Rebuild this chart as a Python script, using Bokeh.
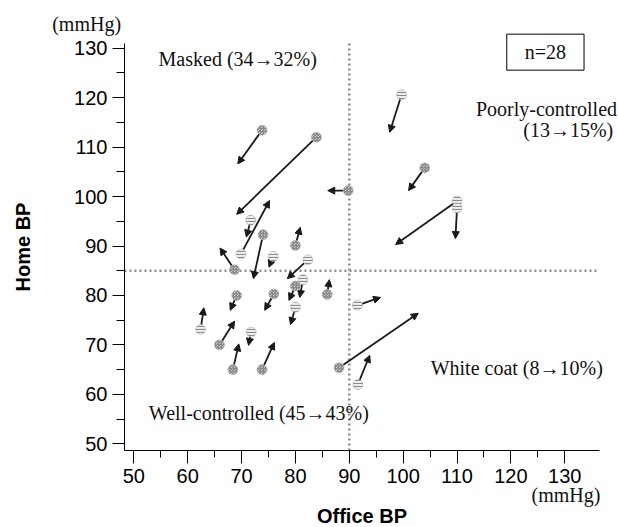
from bokeh.plotting import figure
from bokeh.models import (ColumnDataSource, Arrow, NormalHead, Label,
                          FixedTicker, Range1d, LinearAxis)
from bokeh.embed import file_html
from bokeh.resources import INLINE

# ---- data ----
office_before = [73.8, 83.9, 89.8, 71.7, 69.9, 74.0, 80.0, 68.7, 75.9, 82.3,
                 81.4, 80.0, 85.9, 69.1, 76.0, 80.0, 62.4, 65.9, 71.8, 68.4,
                 73.8, 88.1, 91.5, 91.6, 99.7, 104.0, 110.0, 110.0]
home_before = [113.4, 112.0, 101.2, 95.2, 88.4, 92.3, 90.1, 85.2, 87.9, 87.2,
               83.2, 81.9, 80.2, 80.0, 80.3, 77.6, 73.1, 70.0, 72.6, 65.0,
               65.0, 65.4, 78.0, 62.0, 120.6, 105.8, 99.1, 97.7]
office_after = [69.3, 69.1, 86.0, 70.9, 75.2, 72.2, 80.9, 66.0, 75.1, 78.5,
                80.8, 78.8, 86.3, 67.9, 74.3, 79.1, 63.0, 68.7, 71.3, 69.5,
                76.1, 102.8, 95.8, 93.8, 97.5, 101.0, 98.6, 109.7]
home_after = [106.6, 96.4, 101.2, 91.8, 99.2, 83.4, 93.8, 89.6, 85.7, 83.4,
              79.6, 79.0, 83.2, 77.0, 77.0, 74.1, 77.5, 74.8, 69.9, 70.2,
              70.5, 76.4, 79.6, 67.9, 113.0, 101.2, 90.3, 91.5]
marker_group = ["c", "c", "c", "s", "s", "c", "c", "c", "s", "s",
                "s", "c", "c", "c", "c", "s", "s", "c", "s", "c",
                "c", "c", "s", "s", "s", "c", "s", "s"]

x_ticks = [50, 60, 70, 80, 90, 100, 110, 120, 130]
y_ticks = [50, 60, 70, 80, 90, 100, 110, 120, 130]
office_cut = 90
home_cut = 85

quadrant_labels = ["Masked (34\u219232%)", "Poorly-controlled", "(13\u219215%)",
                   "White coat (8\u219210%)", "Well-controlled (45\u219243%)"]
n_label = "n=28"
unit_label = "(mmHg)"

SERIF = "Liberation Serif"
SANS = "Liberation Sans"

# axis extents (data units) and the wider canvas ranges
x_bounds = (48.27, 136.4)
y_bounds = (48.65, 131.0)

p = figure(width=618, height=527, output_backend="svg", toolbar_location=None,
           x_range=Range1d(25.26, 139.97), y_range=Range1d(33.07, 139.65),
           x_axis_location=None, y_axis_location=None,
           min_border=0)
p.outline_line_color = None
p.xgrid.visible = False
p.ygrid.visible = False
p.background_fill_color = "white"
p.border_fill_color = "white"

xaxis = LinearAxis(fixed_location=y_bounds[0], bounds=x_bounds)
yaxis = LinearAxis(fixed_location=x_bounds[0], bounds=y_bounds)
for ax, ticks in ((xaxis, x_ticks), (yaxis, y_ticks)):
    ax.ticker = FixedTicker(ticks=ticks,
                            minor_ticks=[t + 5 for t in ticks[:-1]])
    ax.axis_line_color = "black"
    ax.axis_line_width = 1
    ax.major_tick_line_color = "black"
    ax.minor_tick_line_color = "black"
    ax.major_tick_in = 0
    ax.minor_tick_in = 0
    ax.major_label_text_font = SANS
    ax.major_label_text_font_size = "20px"
    ax.major_label_text_color = "black"
    ax.axis_label_text_font = SANS
    ax.axis_label_text_font_style = "bold"
    ax.axis_label_text_font_size = "20px"
    ax.axis_label_text_color = "black"

xaxis.major_tick_out = 13
xaxis.minor_tick_out = 7
xaxis.major_label_standoff = 6
xaxis.axis_label = "Office BP"
xaxis.axis_label_standoff = 18

yaxis.major_tick_out = 12
yaxis.minor_tick_out = 8
yaxis.major_label_standoff = 5
yaxis.axis_label = "Home BP"
yaxis.axis_label_standoff = 37

p.add_layout(xaxis, "below")
p.add_layout(yaxis, "left")

# threshold lines, limited to the axis extents
p.segment(x0=[office_cut, x_bounds[0]], y0=[y_bounds[0], home_cut],
          x1=[office_cut, x_bounds[1]], y1=[y_bounds[1], home_cut],
          line_color="#8c8c8c", line_width=2.5, line_dash="2 3")

# arrows
src = ColumnDataSource(dict(xs=office_before, ys=home_before,
                            xe=office_after, ye=home_after))
arrows = Arrow(end=NormalHead(size=7, fill_color="#1a1a1a", line_color="#1a1a1a",
                              line_width=1),
               x_start="xs", y_start="ys", x_end="xe", y_end="ye", source=src,
               line_color="#1a1a1a", line_width=1.8, level="glyph")
p.add_layout(arrows)

# start points (drawn over the arrow tails)
for grp, pat in (("s", "horizontal_line"), ("c", "criss_cross")):
    idx = [i for i, g in enumerate(marker_group) if g == grp]
    r = p.scatter([office_before[i] for i in idx], [home_before[i] for i in idx],
                  size=10, fill_color="#f2f2f2", line_color="#b0b0b0",
                  line_width=0.6, hatch_pattern=pat, hatch_color="#8a8a8a",
                  hatch_scale=3, hatch_weight=1.2)
    r.level = "overlay"

# texts
def add_text(x, y, text, align="left", baseline="alphabetic", **kw):
    p.add_layout(Label(x=x, y=y, text=text, text_font=SERIF,
                       text_font_size="20px", text_color="#111111",
                       text_align=align, text_baseline=baseline, **kw))

add_text(54.6, 127.8, quadrant_labels[0])
add_text(139.7, 117.7, quadrant_labels[1], align="right")
add_text(139.0, 113.4, quadrant_labels[2], align="right")
add_text(105.1, 65.4, quadrant_labels[3])
add_text(52.8, 56.2, quadrant_labels[4])
add_text(126.4, 129.2, n_label, align="center", baseline="middle",
         border_line_color="black", border_line_width=1,
         background_fill_color="white",
         padding=dict(left=18, right=18, top=7, bottom=7))
add_text(34.85, 134.9, unit_label)
add_text(136.6, 39.6, unit_label, align="right")

open("out.html", "w").write(file_html(p, INLINE))
